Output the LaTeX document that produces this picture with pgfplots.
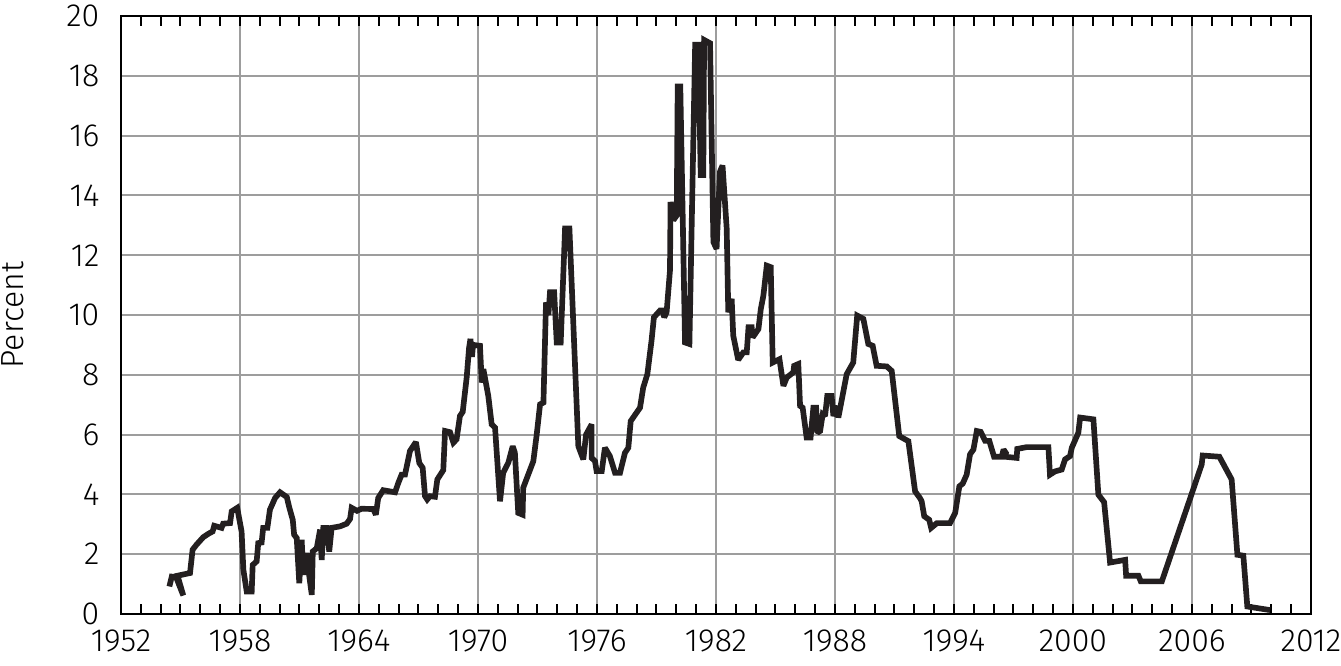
\documentclass[border=0pt]{standalone}
\usepackage{fontspec}
\setmainfont{Fira Sans}[UprightFont=* Light]
\usepackage{pgfplots}
\pgfplotsset{compat=1.18}
\definecolor{inkline}{HTML}{231F20}
\definecolor{gridgray}{HTML}{9D9D9D}

\begin{document}
\begin{tikzpicture}
  % fix the page to the reference's frame (axis box is 357pt x 179.4pt)
  \path[use as bounding box] (-36.3pt,-15.6pt) rectangle (366pt,184.2pt);
  \begin{axis}[
      at={(0,0)}, anchor=south west,
      scale only axis,
      width=357pt, height=179.4pt,
      xmin=1952, xmax=2012,
      ymin=0, ymax=20,
      xtick={1952,1958,...,2012},
      minor xtick={1953,1954,...,2011},
      ytick={0,2,...,20},
      xtick pos=both,
      ytick pos=left,
      tick align=inside,
      major tick length=0pt,
      minor tick length=3pt,
      every minor tick/.append style={line width=0.6pt, black},
      xmajorgrids, ymajorgrids,
      grid style={gridgray, line width=0.6pt},
      axis line style={black, line width=0.8pt},
      font=\fontsize{9.6}{11}\selectfont,
      /pgf/number format/assume math mode=true,
      /pgf/number format/1000 sep={},
      yticklabel style={anchor=east, inner sep=0pt, xshift=-6.3pt},
      xticklabel style={anchor=north, inner sep=0pt, yshift=-4.5pt},
      ylabel={Percent},
      ylabel style={at={(axis description cs:0,0.5)}, anchor=center, yshift=32.5pt},
  ]

  % federal funds rate
  \addplot[inkline, line width=1.7pt, line join=miter, miter limit=2] coordinates {
  (1954.44,0.92) (1954.56,1.25) (1954.78,1.23) (1955.14,0.62) (1954.85,1.28)
  (1955.48,1.37) (1955.61,2.15) (1955.81,2.32) (1956.15,2.57) (1956.40,2.68)
  (1956.62,2.76) (1956.70,2.95) (1957.07,2.88) (1957.15,3.02) (1957.50,3.04)
  (1957.58,3.43) (1957.86,3.55) (1958.08,2.76) (1958.17,1.48) (1958.34,0.75)
  (1958.59,0.75) (1958.64,1.64) (1958.84,1.76) (1958.92,2.37) (1959.09,2.39)
  (1959.17,2.88) (1959.38,2.88) (1959.51,3.49) (1959.77,3.88) (1960.02,4.07)
  (1960.36,3.91) (1960.49,3.55) (1960.66,3.15) (1960.73,2.65) (1960.86,2.54)
  (1960.99,1.03) (1961.11,2.48) (1961.19,1.31) (1961.36,2.04) (1961.45,1.48)
  (1961.62,0.64) (1961.67,2.09) (1961.87,2.20) (1962.04,2.82) (1962.12,1.81)
  (1962.20,2.88) (1962.37,2.88) (1962.50,2.09) (1962.62,2.88) (1963.04,2.93)
  (1963.38,3.02) (1963.55,3.18) (1963.63,3.55) (1963.90,3.45) (1964.13,3.52)
  (1964.72,3.51) (1964.85,3.32) (1964.97,3.88) (1965.22,4.14) (1965.82,4.07)
  (1965.98,4.38) (1966.15,4.66) (1966.32,4.66) (1966.57,5.45) (1966.87,5.75)
  (1967.04,5.05) (1967.21,4.89) (1967.33,3.94) (1967.44,3.83) (1967.58,3.94)
  (1967.83,3.92) (1967.95,4.50) (1968.25,4.81) (1968.34,6.12) (1968.59,6.08)
  (1968.76,5.73) (1968.92,5.84) (1969.09,6.62) (1969.23,6.76) (1969.43,7.91)
  (1969.55,8.90) (1969.62,9.20) (1969.70,8.60) (1969.75,9.00) (1970.10,8.97)
  (1970.19,7.74) (1970.27,8.19) (1970.52,7.29) (1970.69,6.34) (1970.86,6.23)
  (1971.11,3.77) (1971.27,4.72) (1971.53,5.06) (1971.75,5.61) (1971.86,5.39)
  (1972.03,3.38) (1972.25,3.32) (1972.28,4.22) (1972.79,5.11) (1972.96,6.00)
  (1973.13,7.01) (1973.30,7.07) (1973.43,10.42) (1973.55,10.00) (1973.63,10.76)
  (1973.84,10.76) (1973.97,9.08) (1974.17,9.08) (1974.39,12.89) (1974.61,12.89)
  (1975.06,5.61) (1975.31,5.17) (1975.45,6.00) (1975.73,6.34) (1975.73,5.22)
  (1975.90,5.11) (1975.98,4.78) (1976.24,4.78) (1976.40,5.56) (1976.65,5.28)
  (1976.91,4.72) (1977.16,4.72) (1977.41,5.39) (1977.58,5.56) (1977.70,6.45)
  (1978.17,6.90) (1978.33,7.57) (1978.54,8.02) (1978.75,9.14) (1978.87,9.92)
  (1979.18,10.15) (1979.32,10.15) (1979.39,9.92) (1979.51,10.09) (1979.68,11.49)
  (1979.71,13.78) (1979.85,13.17) (1980.02,13.33) (1980.07,17.64) (1980.20,17.64)
  (1980.44,9.08) (1980.66,9.03) (1980.95,19.04) (1981.11,19.04) (1981.23,14.68)
  (1981.36,14.68) (1981.40,19.20) (1981.70,19.09) (1981.87,12.44) (1982.03,12.21)
  (1982.20,14.79) (1982.33,15.00) (1982.54,12.89) (1982.62,10.09) (1982.79,10.54)
  (1982.87,9.31) (1983.12,8.50) (1983.38,8.75) (1983.55,8.75) (1983.64,9.59)
  (1983.80,9.59) (1983.85,9.25) (1984.14,9.53) (1984.26,10.20) (1984.39,10.65)
  (1984.56,11.65) (1984.76,11.60) (1984.86,8.41) (1985.20,8.52) (1985.40,7.63)
  (1985.57,7.91) (1985.90,8.08) (1985.94,8.30) (1986.15,8.36) (1986.24,6.96)
  (1986.37,6.90) (1986.57,5.90) (1986.77,5.90) (1986.91,6.90) (1987.05,6.90)
  (1987.11,6.06) (1987.25,6.12) (1987.38,6.68) (1987.50,6.62) (1987.61,7.29)
  (1987.83,7.29) (1987.92,6.62) (1988.09,6.96) (1988.17,6.57) (1988.59,8.02)
  (1988.92,8.41) (1989.12,9.98) (1989.43,9.87) (1989.68,9.03) (1989.90,8.97)
  (1990.10,8.30) (1990.61,8.28) (1990.86,8.13) (1991.24,5.95) (1991.70,5.78)
  (1992.04,4.10) (1992.28,3.88) (1992.37,3.77) (1992.50,3.27) (1992.75,3.15)
  (1992.85,2.88) (1993.14,3.04) (1993.80,3.04) (1994.06,3.38) (1994.27,4.27)
  (1994.44,4.36) (1994.64,4.66) (1994.81,5.34) (1994.98,5.50) (1995.15,6.12)
  (1995.35,6.09) (1995.57,5.79) (1995.78,5.79) (1996.02,5.26) (1996.41,5.26)
  (1996.50,5.50) (1996.62,5.38) (1996.55,5.26) (1997.16,5.22) (1997.19,5.52)
  (1997.66,5.58) (1998.76,5.58) (1998.84,4.66) (1999.10,4.77) (1999.43,4.83)
  (1999.60,5.17) (1999.85,5.28) (1999.94,5.56) (2000.27,6.06) (2000.36,6.57)
  (2001.03,6.51) (2001.28,3.99) (2001.57,3.74) (2001.87,1.72) (2002.63,1.81)
  (2002.68,1.28) (2003.30,1.28) (2003.42,1.09) (2004.48,1.09) (2006.49,5.00)
  (2006.54,5.30) (2007.38,5.26) (2008.00,4.50) (2008.29,1.98) (2008.59,1.95)
  (2008.79,0.25) (2009.94,0.13)
  };

  \end{axis}
\end{tikzpicture}
\end{document}
